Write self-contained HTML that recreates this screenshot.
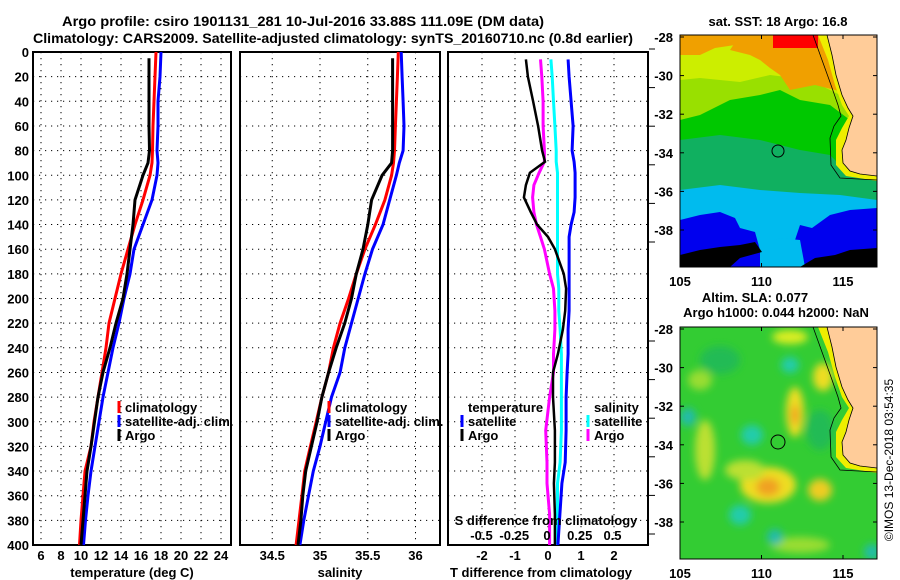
<!DOCTYPE html>
<html><head><meta charset="utf-8">
<style>
html,body{margin:0;padding:0;background:#fff;}
svg{display:block;font-family:"Liberation Sans",sans-serif;font-weight:bold;}
</style></head>
<body>
<svg id="fig" width="900" height="580" viewBox="0 0 900 580" xmlns="http://www.w3.org/2000/svg">
<text x="303" y="26" font-size="14.2" text-anchor="middle" textLength="482" lengthAdjust="spacingAndGlyphs">Argo profile: csiro 1901131_281 10-Jul-2016 33.88S 111.09E (DM data)</text>
<text x="333" y="43" font-size="14.2" text-anchor="middle" textLength="600" lengthAdjust="spacingAndGlyphs">Climatology: CARS2009. Satellite-adjusted climatology: synTS_20160710.nc (0.8d earlier)</text>
<g id="plots"></g>
<g id="maps"></g>
<text transform="translate(893,460) rotate(-90)" font-size="12" font-weight="normal" text-anchor="middle">©IMOS 13-Dec-2018 03:54:35</text>
</svg>
<script>
// ---------- data ----------
const profDepth = [5,20,40,60,80,90,100,120,140,160,180,200,220,240,260,280,300,320,340,360,380,400];
const climDepth = [0,20,40,60,80,90,100,120,140,160,180,200,220,240,260,280,300,320,340,360,380,400];
const argoTemp = [16.8,16.8,16.8,16.8,16.85,16.7,16.2,15.4,15.2,14.9,14.6,14.2,13.5,12.9,12.2,11.7,11.35,11.0,10.6,10.4,10.2,10.0];
const climTemp = [17.5,17.4,17.3,17.2,17.15,17.1,16.9,16.2,15.4,14.7,14.0,13.4,12.8,12.5,12.1,11.7,11.3,11.0,10.4,10.2,10.0,9.85];
const satTemp  = [18.0,17.9,17.7,17.7,17.6,17.7,17.6,17.1,16.2,15.3,14.9,14.3,13.8,13.2,12.7,12.2,11.8,11.4,11.0,10.7,10.45,10.25];
const argoSal = [35.76,35.76,35.76,35.76,35.76,35.75,35.65,35.54,35.5,35.45,35.38,35.33,35.26,35.17,35.09,35.02,34.97,34.91,34.85,34.82,34.8,34.77];
const climSal = [35.82,35.81,35.8,35.79,35.78,35.77,35.75,35.68,35.58,35.47,35.38,35.3,35.21,35.14,35.09,35.02,34.96,34.9,34.84,34.81,34.78,34.75];
const satSal  = [35.85,35.86,35.87,35.88,35.87,35.83,35.8,35.73,35.66,35.55,35.47,35.4,35.33,35.26,35.21,35.12,35.06,35.0,34.93,34.88,34.83,34.79];
const diffDepth = [6,20,40,60,80,89,98,108,118,130,140,150,160,180,192,210,225,245,260,280,307,333,350,375,400];
const argoTDiff = [-0.67,-0.61,-0.45,-0.3,-0.18,-0.09,-0.55,-0.67,-0.73,-0.52,-0.33,0.0,0.21,0.48,0.55,0.52,0.45,0.3,0.15,0.15,0.21,0.21,0.18,0.21,0.21];
const satTDiff  = [0.61,0.64,0.7,0.76,0.73,0.79,0.82,0.82,0.82,0.79,0.7,0.64,0.64,0.64,0.64,0.64,0.61,0.61,0.58,0.55,0.55,0.52,0.42,0.36,0.3];
const satSDiff  = [0.03,0.04,0.05,0.06,0.07,0.07,0.08,0.08,0.08,0.08,0.08,0.08,0.08,0.08,0.09,0.09,0.10,0.11,0.11,0.11,0.11,0.10,0.08,0.08,0.07];
const argoSDiff = [-0.05,-0.04,-0.03,-0.03,-0.02,-0.02,-0.06,-0.10,-0.11,-0.10,-0.08,-0.05,-0.02,0.02,0.05,0.06,0.06,0.05,0.05,0.02,-0.01,0,0,0.02,0.02];
const depthTicks = [0,20,40,60,80,100,120,140,160,180,200,220,240,260,280,300,320,340,360,380,400];
const tempTicks = [6,8,10,12,14,16,18,20,22,24];
const salTicks = [34.5,35,35.5,36];
const tdTicks = [-2,-1,0,1,2];
const sdTicks = [-0.5,-0.25,0,0.25,0.5];
const sdTickLabels = ["-0.5","-0.25","0","0.25","0.5"];
const lonTicks = [105,110,115];
const latTicks = [-28,-30,-32,-34,-36,-38];

const NS="http://www.w3.org/2000/svg";
function mk(tag,attrs,parent){const e=document.createElementNS(NS,tag);for(const k in attrs)e.setAttribute(k,attrs[k]);parent.appendChild(e);return e;}
const plots=document.getElementById('plots');
const TOP=52,BOT=545;
const yD=d=>TOP+(BOT-TOP)*d/400;
const xT=t=>41+(t-6)*10;
const xS=s=>320+(s-35)*95.5;
const xTD=v=>548+v*33;
const xSD=v=>547+v*131;

function panel(name,x0,x1,vticks,xf){
  const g=mk('g',{},plots);
  
  
  depthTicks.forEach(d=>{ if(d>0&&d<400){const l=mk('line',{x1:x0,x2:x1,y1:yD(d),y2:yD(d),stroke:'#000','stroke-width':1,'stroke-dasharray':'1.2,4.8'},g);
    }});
  vticks.forEach(v=>{const X=xf(v);const l=mk('line',{x1:X,x2:X,y1:TOP,y2:BOT,stroke:'#000','stroke-width':1,'stroke-dasharray':'1.2,4.8'},g);
    });
  const r=mk('rect',{x:x0,y:TOP,width:x1-x0,height:BOT-TOP,fill:'none',stroke:'#000','stroke-width':2},g);
  
  return g;
}
function series(g,name,depths,vals,xf,color,w){
  const pts=vals.map((v,i)=>xf(v).toFixed(1)+','+yD(depths[i]).toFixed(1)).join(' ');
  const p=mk('polyline',{points:pts,fill:'none',stroke:color,'stroke-width':w,'stroke-linejoin':'miter'},g);
  
}
function txt(g,name,x,y,s,size,anchor){const t=mk('text',{x:x,y:y,'font-size':size||13,'text-anchor':anchor||'middle'},g);t.textContent=s;
  return t;}
function legendEntry(g,name,x,y,color,label){
  const l=mk('line',{x1:x,x2:x,y1:y-11,y2:y+1,stroke:color,'stroke-width':3},g);
  
  txt(g,name,x+6,y,label,13,'start');
}

depthTicks.forEach(d=>txt(plots,'depth-tick-label',29,yD(d)+5,String(d),13,'end'));

const g1=panel('temperature-panel',33,231,tempTicks,xT);
series(g1,'climatology-temperature-line',climDepth,climTemp,xT,'#f00',3);
series(g1,'satellite-temperature-line',climDepth,satTemp,xT,'#00f',3);
series(g1,'argo-temperature-line',profDepth,argoTemp,xT,'#000',3);
tempTicks.forEach(t=>txt(g1,'temperature-tick-label',xT(t),560,String(t)));
txt(g1,'temperature-axis-title',132,577,'temperature (deg C)');
legendEntry(g1,'legend-climatology',119,412,'#f00','climatology');
legendEntry(g1,'legend-satellite-adj',119,426,'#00f','satellite-adj. clim.');
legendEntry(g1,'legend-argo',119,440,'#000','Argo');

const g2=panel('salinity-panel',240,440,salTicks,xS);
series(g2,'climatology-salinity-line',climDepth,climSal,xS,'#f00',3);
series(g2,'satellite-salinity-line',climDepth,satSal,xS,'#00f',3);
series(g2,'argo-salinity-line',profDepth,argoSal,xS,'#000',3);
salTicks.forEach(t=>txt(g2,'salinity-tick-label',xS(t),560,String(t)));
txt(g2,'salinity-axis-title',340,577,'salinity');
legendEntry(g2,'legend-climatology',329,412,'#f00','climatology');
legendEntry(g2,'legend-satellite-adj',329,426,'#00f','satellite-adj. clim.');
legendEntry(g2,'legend-argo',329,440,'#000','Argo');

const g3=panel('difference-panel',448,648,tdTicks,xTD);
series(g3,'argo-salinity-diff-line',diffDepth,argoSDiff,xSD,'#f0f',3);
series(g3,'satellite-salinity-diff-line',diffDepth,satSDiff,xSD,'#0ff',3);
series(g3,'satellite-temperature-diff-line',diffDepth,satTDiff,xTD,'#00f',3);
series(g3,'argo-temperature-diff-line',diffDepth,argoTDiff,xTD,'#000',2.5);
tdTicks.forEach(t=>txt(g3,'tdiff-tick-label',xTD(t),560,String(t)));
txt(g3,'tdiff-axis-title',541,577,'T difference from climatology');
txt(g3,'sdiff-axis-title',546,525,'S difference from climatology');
sdTicks.forEach((t,i)=>txt(g3,'sdiff-tick-label',xSD(t),540,sdTickLabels[i]));
txt(g3,'legend-temperature-heading',468,412,'temperature',13,'start');
legendEntry(g3,'legend-temp-satellite',462,426,'#00f','satellite');
legendEntry(g3,'legend-temp-argo',462,440,'#000','Argo');
txt(g3,'legend-salinity-heading',594,412,'salinity',13,'start');
legendEntry(g3,'legend-sal-satellite',588,426,'#0ff','satellite');
legendEntry(g3,'legend-sal-argo',588,440,'#f0f','Argo');

// ---------- maps ----------
const maps=document.getElementById('maps');
const MX0=680,MX1=877;
const mlon=l=>680+(l-105)*16.3;
function mapAxes(g,y0){
  const lat=v=>y0+2+(-28-v)*19.3;
  mk('rect',{x:MX0,y:y0,width:MX1-MX0,height:232,fill:'none',stroke:'#000','stroke-width':1},g);
  latTicks.forEach(v=>{txt(g,'latitude-tick-label',673,lat(v)+5,String(v),13,'end');
    mk('line',{x1:MX0,x2:MX0+4,y1:lat(v),y2:lat(v),stroke:'#000'},g);mk('line',{x1:MX1-4,x2:MX1,y1:lat(v),y2:lat(v),stroke:'#000'},g);
    mk('line',{x1:649,x2:655,y1:lat(v)+12,y2:lat(v)+12,stroke:'#000'},g);});
  lonTicks.forEach(v=>{txt(g,'longitude-tick-label',mlon(v),y0+251,String(v),13);
    mk('line',{x1:mlon(v),x2:mlon(v),y1:y0,y2:y0+4,stroke:'#000'},g);mk('line',{x1:mlon(v),x2:mlon(v),y1:y0+228,y2:y0+232,stroke:'#000'},g);});
}
function landPath(dy){
  return `M827,${35+dy} L832,${55+dy} L836,${75+dy} L842,${95+dy} L848,${108+dy} L853,${116+dy} L849,${128+dy} L846,${140+dy} L842,${150+dy} L843,${163+dy} L850,${171+dy} L860,${174+dy} L877,${176+dy} L877,${35+dy} Z`;
}
function coast(g,dy){
  mk('path',{d:`M818,${35+dy} L828,${60+dy} L835,${85+dy} L842,${105+dy} L849,${116+dy} L842,${128+dy} L836,${140+dy} L836,${165+dy} L846,${176+dy} L877,${181+dy} L877,${172+dy} L852,${166+dy} L846,${152+dy} L852,${135+dy} L858,${116+dy} L848,${95+dy} L838,${60+dy} L832,${35+dy} Z`,fill:'#eeee00'},g);
  mk('path',{d:landPath(dy),fill:'#ffcc99',stroke:'#000','stroke-width':0.8},g);
  mk('path',{d:`M813,${35+dy} L822,${60+dy} L831,${85+dy} L838,${105+dy} L841,${116+dy} L834,${126+dy} L830,${138+dy} L831,${165+dy} L840,${178+dy} L877,${180+dy}`,fill:'none',stroke:'#000','stroke-width':0.8},g);
}
const m1=mk('g',{},maps);


txt(m1,'sst-map-title',778,26,'sat. SST: 18 Argo: 16.8',13);
mk('clipPath',{id:'c1'},m1);
mk('rect',{x:MX0,y:35,width:197,height:232},document.getElementById('c1'));
const b1=mk('g',{'clip-path':'url(#c1)'},m1);
mk('rect',{x:680,y:35,width:197,height:232,fill:'#00c800'},b1);
mk('path',{d:'M680,35 L877,35 L877,130 L850,120 L830,105 L800,100 L780,90 L760,95 L730,100 L700,115 L680,120 Z',fill:'#99e000'},b1);
mk('path',{d:'M680,35 L877,35 L877,110 L840,95 L810,80 L770,75 L740,82 L700,78 L680,80 Z',fill:'#ccee00'},b1);
mk('path',{d:'M740,35 L877,35 L877,100 L835,90 L815,85 L790,90 L780,75 L770,68 L760,60 L750,55 L730,50 Z',fill:'#f0a000'},b1);
mk('path',{d:'M680,35 L740,35 L735,45 L715,48 L700,55 L680,55 Z',fill:'#f0a000'},b1);
mk('rect',{x:773,y:35,width:45,height:13,fill:'#ff0000'},b1);
mk('path',{d:'M680,140 L720,135 L760,140 L800,150 L830,155 L845,170 L877,175 L877,267 L680,267 Z',fill:'#10b060'},b1);
mk('path',{d:'M680,190 L720,185 L760,190 L800,193 L840,195 L877,200 L877,267 L680,267 Z',fill:'#00bbee'},b1);
mk('path',{d:'M680,220 L700,215 L720,212 L735,218 L740,228 L755,232 L760,250 L770,245 L795,240 L800,225 L812,228 L830,215 L850,210 L877,208 L877,267 L680,267 Z',fill:'#0000ee'},b1);
mk('path',{d:'M760,245 L780,238 L800,240 L805,267 L760,267 Z',fill:'#00bbee'},b1);
mk('path',{d:'M680,255 L700,250 L720,247 L740,245 L755,242 L762,252 L740,258 L730,267 L680,267 Z',fill:'#000'},b1);
mk('path',{d:'M800,267 L815,258 L835,255 L850,250 L877,248 L877,267 Z',fill:'#000'},b1);
coast(b1,0);
const c1=mk('circle',{cx:778,cy:151,r:6,fill:'none',stroke:'#000','stroke-width':1},m1);

mapAxes(m1,35);

const m2=mk('g',{},maps);


txt(m2,'sla-map-title',755,302,'Altim. SLA: 0.077',13);
txt(m2,'sla-map-subtitle',776,317,'Argo h1000: 0.044 h2000: NaN',13);
const defs=mk('defs',{},m2);
const f=mk('filter',{id:'blur',x:'-50%',y:'-50%',width:'200%',height:'200%'},defs);
mk('feGaussianBlur',{stdDeviation:4},f);
mk('clipPath',{id:'c2'},defs);
mk('rect',{x:MX0,y:327,width:197,height:232},document.getElementById('c2'));
const b2=mk('g',{'clip-path':'url(#c2)'},m2);
mk('rect',{x:680,y:327,width:197,height:232,fill:'#33cc33'},b2);
const bl=mk('g',{filter:'url(#blur)'},b2);
[['#ddee22',790,337,18,7],['#eedd22',823,377,10,14],['#eedd22',795,412,9,25],['#f0a020',795,415,4,10],
 ['#eedd22',768,485,28,18],['#f0a020',768,487,12,9],['#eecc22',820,490,12,11],['#bbe033',705,450,10,30],
 ['#bbe033',745,470,20,10],['#99dd33',700,380,12,10],['#99dd33',800,545,30,8],
 ['#22ccaa',752,435,11,10],['#22ccaa',790,365,9,8],['#22bbaa',688,417,8,9],['#22ccaa',740,515,11,10],
 ['#22bbaa',775,537,8,8],['#22bbaa',872,552,8,8],['#22bb55',720,360,20,14],['#22bb55',820,430,14,20]]
.forEach(b=>mk('ellipse',{cx:b[1],cy:b[2],rx:b[3],ry:b[4],fill:b[0]},bl));
coast(b2,292);
const c2=mk('circle',{cx:778,cy:442,r:7,fill:'#33cc33',stroke:'#000','stroke-width':1},m2);

mapAxes(m2,327);
</script>
</body></html>
